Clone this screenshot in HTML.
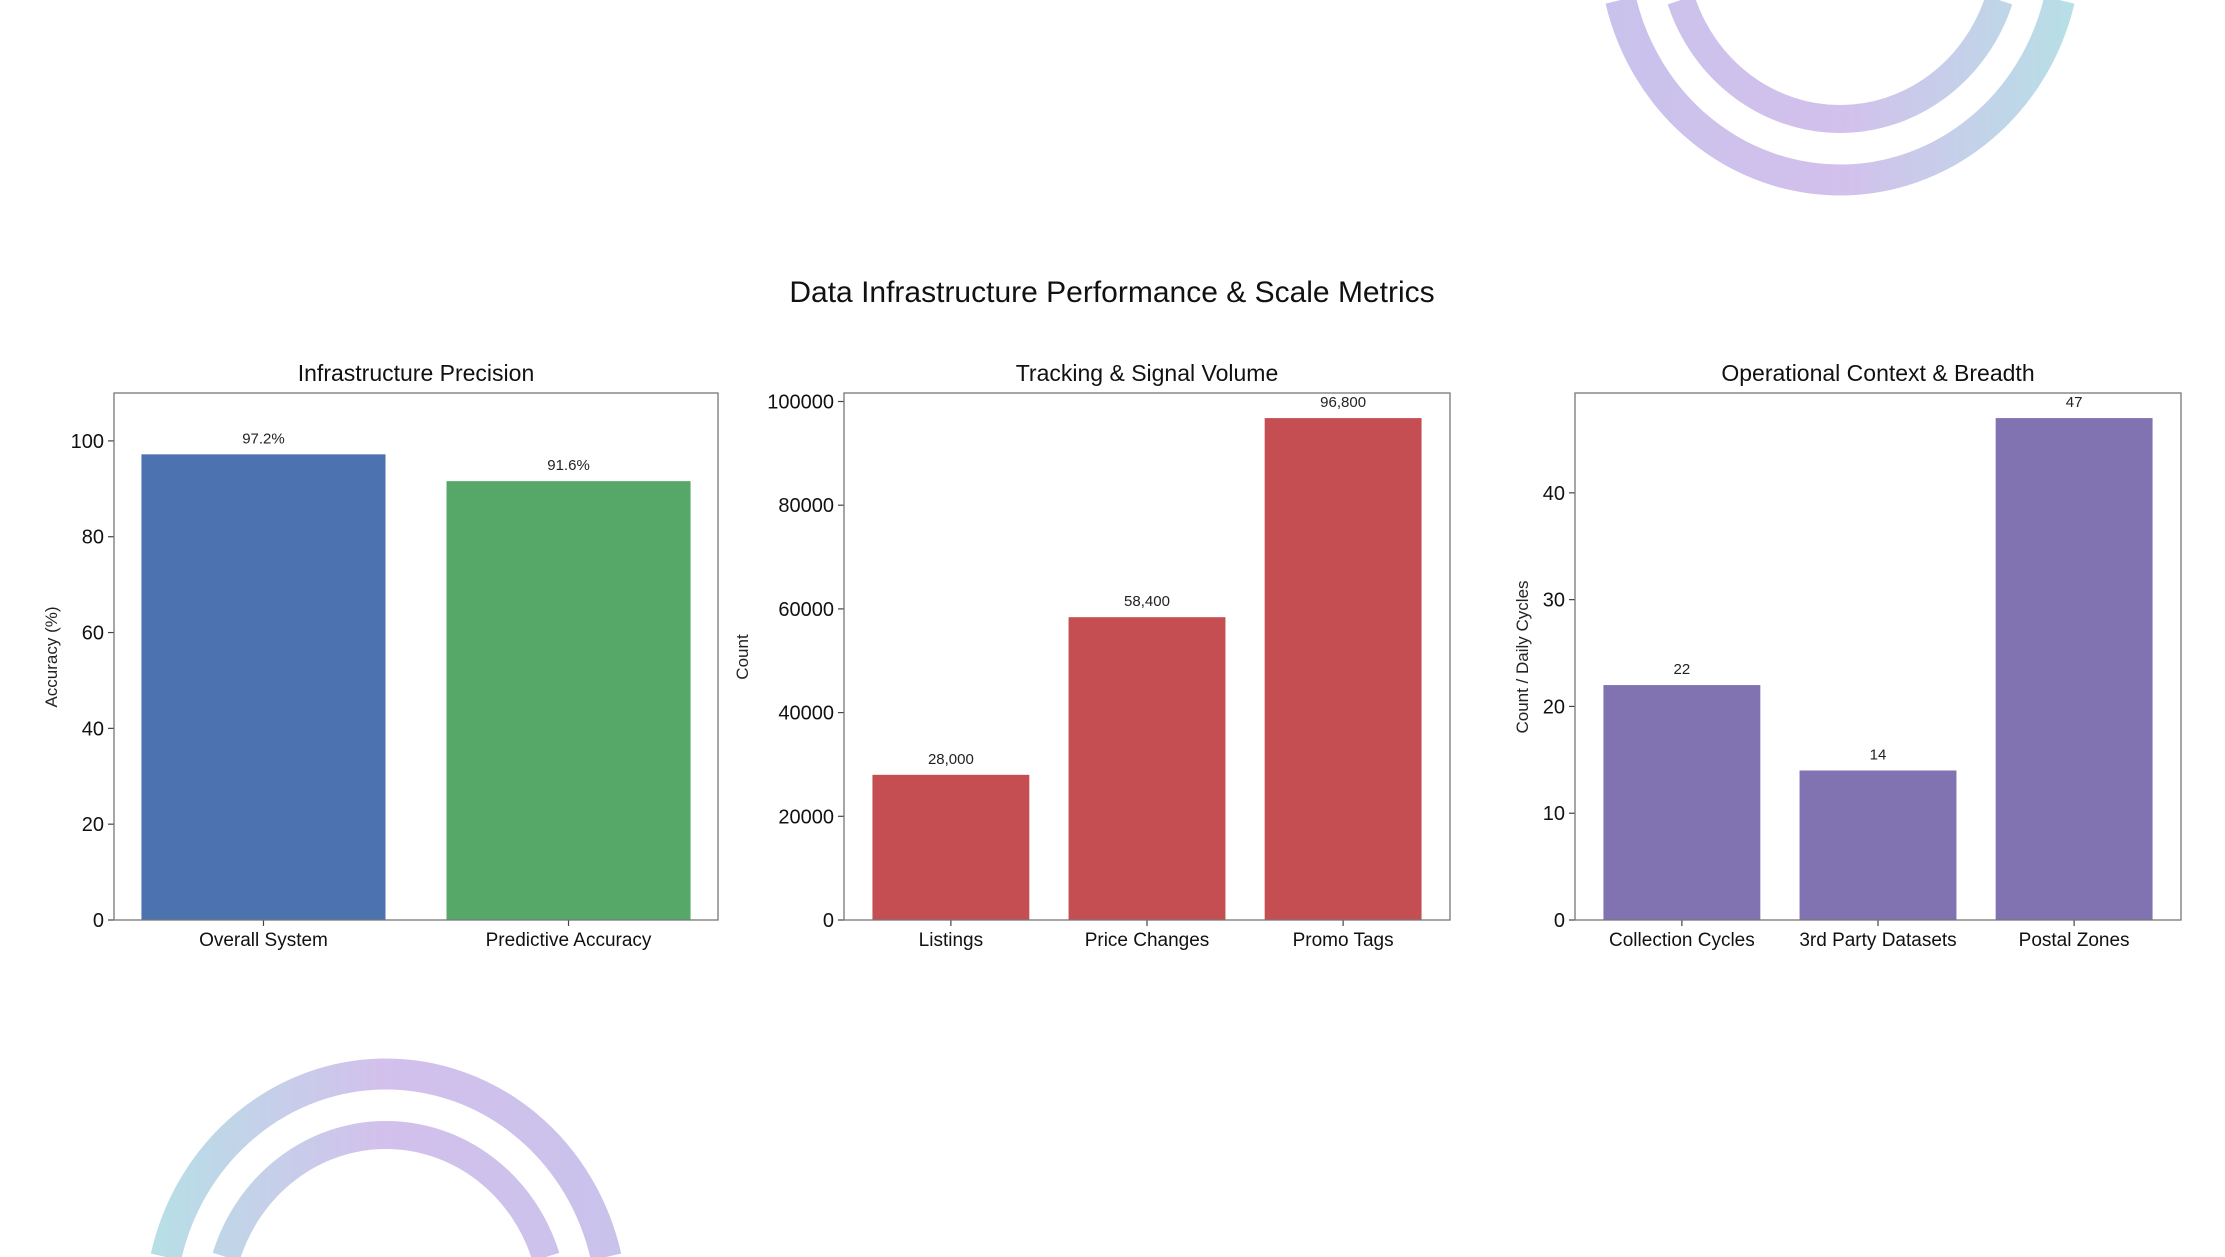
<!DOCTYPE html>
<html><head><meta charset="utf-8">
<style>
html,body{margin:0;padding:0;background:#fff;width:2225px;height:1257px;overflow:hidden;}
svg{display:block;overflow:hidden;font-family:"Liberation Sans",sans-serif;}
</style></head>
<body>
<svg id="root" width="2225" height="1257" viewBox="0 0 2225 1257" xmlns="http://www.w3.org/2000/svg">
<defs>
<linearGradient id="gTR" gradientUnits="userSpaceOnUse" x1="1600" x2="2080" y1="0" y2="0">
<stop offset="0" stop-color="#c8c3ec"/><stop offset="0.5" stop-color="#d3c0ec"/><stop offset="1" stop-color="#b6e0e6"/>
</linearGradient>
<linearGradient id="gBL" gradientUnits="userSpaceOnUse" x1="146" x2="626" y1="0" y2="0">
<stop offset="0" stop-color="#b6e0e6"/><stop offset="0.5" stop-color="#d3c0ec"/><stop offset="1" stop-color="#c8c3ec"/>
</linearGradient>
</defs>
<g id="rings"></g>
<text x="1112" y="302" text-anchor="middle" font-size="30" fill="#111">Data Infrastructure Performance &amp; Scale Metrics</text>
<g id="charts"></g>
</svg>
<script>
const c1Categories = ["Overall System", "Predictive Accuracy"];
const c1Values = [97.2, 91.6];
const c1Labels = ["97.2%", "91.6%"];
const c1Ticks = [0, 20, 40, 60, 80, 100];
const c2Categories = ["Listings", "Price Changes", "Promo Tags"];
const c2Values = [28000, 58400, 96800];
const c2Labels = ["28,000", "58,400", "96,800"];
const c2Ticks = [0, 20000, 40000, 60000, 80000, 100000];
const c3Categories = ["Collection Cycles", "3rd Party Datasets", "Postal Zones"];
const c3Values = [22, 14, 47];
const c3Labels = ["22", "14", "47"];
const c3Ticks = [0, 10, 20, 30, 40];

const NS = "http://www.w3.org/2000/svg";
const host = document.getElementById("charts");
const ringHost = document.getElementById("rings");
function mk(tag, attrs, parent){
  const e = document.createElementNS(NS, tag);
  for (const k in attrs) e.setAttribute(k, attrs[k]);
  parent.appendChild(e);
  return e;
}
function ringArc(cx, cy, rx, ry, edgeY, sweep, stroke, sw, name){
  const dx = rx * Math.sqrt(1 - Math.pow((edgeY - cy) / ry, 2));
  const d = `M ${cx-dx} ${edgeY} A ${rx} ${ry} 0 0 ${sweep} ${cx+dx} ${edgeY}`;
  const p = mk("path", {d:d, fill:"none", stroke:stroke, "stroke-width":sw}, ringHost);
  
  
}
ringArc(1840, -57, 226, 237, 0, 0, "url(#gTR)", 31, "decor-ring-top-outer");
ringArc(1840, -57, 168, 176, 0, 0, "url(#gTR)", 28, "decor-ring-top-inner");
ringArc(386, 1311, 226, 237, 1257, 1, "url(#gBL)", 31, "decor-ring-bottom-outer");
ringArc(386, 1311, 168, 176, 1257, 1, "url(#gBL)", 28, "decor-ring-bottom-inner");

function drawChart(cfg){
  const g = mk("g", {}, host);
  
  
  const L = cfg.left, R = cfg.right, T = 393, B = 920;
  const n = cfg.cats.length;
  const unit = (R - L) / (n - 1 + 2 * cfg.pad);
  const xs = i => L + (i + cfg.pad) * unit;
  const bw = 0.8 * unit;
  const ys = v => B - v / cfg.ymax * (B - T);
  const title = mk("text", {x:(L+R)/2, y:T-12, "text-anchor":"middle", "font-size":23, fill:"#111"}, g);
  title.textContent = cfg.title;
  
  
  cfg.vals.forEach((v, i) => {
    const r = mk("rect", {x:xs(i)-bw/2, y:ys(v), width:bw, height:B-ys(v), fill:cfg.colors[i]}, g);
    
    
    const t = mk("text", {x:xs(i), y:ys(v)-11, "text-anchor":"middle", "font-size":15, fill:"#222"}, g);
    t.textContent = cfg.labels[i];
    
    
    mk("line", {x1:xs(i), x2:xs(i), y1:B, y2:B+6, stroke:"#444", "stroke-width":1.2}, g);
    const xl = mk("text", {x:xs(i), y:B+26, "text-anchor":"middle", "font-size":19, fill:"#111"}, g);
    xl.textContent = cfg.cats[i];
    
    
  });
  cfg.ticks.forEach(tv => {
    mk("line", {x1:L-6, x2:L, y1:ys(tv), y2:ys(tv), stroke:"#444", "stroke-width":1.2}, g);
    const tl = mk("text", {x:L-10, y:ys(tv)+7, "text-anchor":"end", "font-size":20, fill:"#111"}, g);
    tl.textContent = String(tv);
    
    
  });
  const fr = mk("rect", {x:L, y:T, width:R-L, height:B-T, fill:"none", stroke:"#777", "stroke-width":1.3}, g);
  
  
  const yl = mk("text", {x:0, y:0, transform:`translate(${cfg.ylx},657) rotate(-90)`, "text-anchor":"middle", "font-size":17, fill:"#222"}, g);
  yl.textContent = cfg.ylabel;
  
  
}
drawChart({name:"chart-infrastructure-precision", title:"Infrastructure Precision", left:114, right:718, ymax:110, pad:0.49,
  cats:c1Categories, vals:c1Values, labels:c1Labels, ticks:c1Ticks, colors:["#4c72b0","#55a868"], ylabel:"Accuracy (%)", ylx:57});
drawChart({name:"chart-tracking-signal-volume", title:"Tracking & Signal Volume", left:844, right:1450, ymax:101640, pad:0.545,
  cats:c2Categories, vals:c2Values, labels:c2Labels, ticks:c2Ticks, colors:["#c44e52","#c44e52","#c44e52"], ylabel:"Count", ylx:748});
drawChart({name:"chart-operational-context", title:"Operational Context & Breadth", left:1575, right:2181, ymax:49.35, pad:0.545,
  cats:c3Categories, vals:c3Values, labels:c3Labels, ticks:c3Ticks, colors:["#8172b2","#8172b2","#8172b2"], ylabel:"Count / Daily Cycles", ylx:1528});
</script>
</body></html>
